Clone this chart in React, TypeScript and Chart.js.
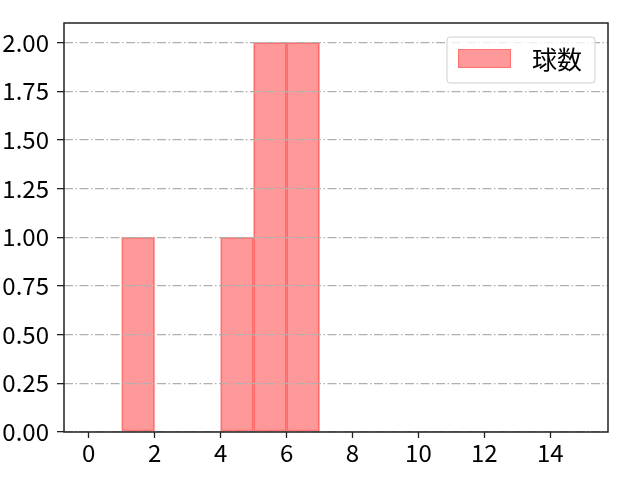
import React, { useEffect, useRef } from "react";
import { Chart, registerables } from "chart.js";

Chart.register(...registerables);

const binEdges = [0, 1, 2, 3, 4, 5, 6, 7, 8, 9, 10, 11, 12, 13, 14, 15];
const counts = [0, 1, 0, 0, 1, 2, 2, 0, 0, 0, 0, 0, 0, 0, 0];
const xTicks = [0, 2, 4, 6, 8, 10, 12, 14];
const yTicks = [0, 0.25, 0.5, 0.75, 1.0, 1.25, 1.5, 1.75, 2.0];
const seriesLabel = "球数";

const FONT = "'Noto Sans CJK JP', 'Noto Sans', sans-serif";

export default function App() {
  const ref = useRef<HTMLCanvasElement | null>(null);

  useEffect(() => {
    if (!ref.current) return;
    const data = counts.map((c, i) => ({ x: (binEdges[i] + binEdges[i + 1]) / 2, y: c }));

    const framePlugin = {
      id: "frame",
      afterDraw(chart: any) {
        const { ctx, chartArea: a } = chart;
        ctx.save();
        ctx.strokeStyle = "#222";
        ctx.lineWidth = 1.5;
        ctx.strokeRect(a.left, a.top, a.right - a.left, a.bottom - a.top);
        // legend
        const lx = 447, ly = 37, lw = 148, lh = 46;
        ctx.fillStyle = "rgba(255,255,255,0.8)";
        ctx.strokeStyle = "#d0d0d0";
        ctx.lineWidth = 1;
        ctx.beginPath();
        const r = 3;
        ctx.moveTo(lx + r, ly);
        ctx.lineTo(lx + lw - r, ly);
        ctx.quadraticCurveTo(lx + lw, ly, lx + lw, ly + r);
        ctx.lineTo(lx + lw, ly + lh - r);
        ctx.quadraticCurveTo(lx + lw, ly + lh, lx + lw - r, ly + lh);
        ctx.lineTo(lx + r, ly + lh);
        ctx.quadraticCurveTo(lx, ly + lh, lx, ly + lh - r);
        ctx.lineTo(lx, ly + r);
        ctx.quadraticCurveTo(lx, ly, lx + r, ly);
        ctx.closePath();
        ctx.fill();
        ctx.stroke();
        ctx.fillStyle = "rgba(255,0,0,0.4)";
        ctx.fillRect(458, 49, 53, 19);
        ctx.strokeStyle = "rgba(255,0,0,0.25)";
        ctx.strokeRect(458.5, 49.5, 52, 18);
        ctx.fillStyle = "#000";
        ctx.font = `25px ${FONT}`;
        ctx.textBaseline = "middle";
        ctx.textAlign = "left";
        ctx.fillText(seriesLabel, 532, 59);
        ctx.restore();
      },
    };

    const chart = new Chart(ref.current, {
      type: "bar",
      data: {
        datasets: [
          {
            label: seriesLabel,
            data,
            backgroundColor: "rgba(255,0,0,0.4)",
            borderColor: "rgba(255,0,0,0.33)",
            borderWidth: (ctx: any) => (ctx.raw && ctx.raw.y > 0 ? 1 : 0),
            borderSkipped: false,
            inflateAmount: 0.5,
            barPercentage: 1,
            categoryPercentage: 1,
          } as any,
        ],
      },
      options: {
        animation: false,
        responsive: false,
        layout: { padding: { top: 23, right: 32, left: 0, bottom: 0 } },
        plugins: { legend: { display: false }, tooltip: { enabled: false } },
        scales: {
          x: {
            type: "linear",
            min: -0.75,
            max: 15.75,
            offset: false,
            afterBuildTicks: (s: any) => {
              s.ticks = xTicks.map((v) => ({ value: v }));
            },
            afterFit: (s: any) => {
              s.height = 48;
            },
            border: { display: false },
            grid: {
              offset: false,
              drawOnChartArea: false,
              drawTicks: true,
              tickLength: 6,
              tickColor: "#222",
              tickWidth: 1.3,
            },
            ticks: {
              color: "#000",
              font: { family: FONT, size: 24 },
              padding: 0,
              maxRotation: 0,
              callback: (v: any) => String(v),
            },
          },
          y: {
            type: "linear",
            min: 0,
            max: 2.1,
            afterBuildTicks: (s: any) => {
              s.ticks = yTicks.map((v) => ({ value: v }));
            },
            afterFit: (s: any) => {
              s.width = 64;
            },
            border: { display: false, dash: [9, 2.5, 1.5, 2.5] },
            grid: {
              z: 1,
              color: "#b0b0b0",
              lineWidth: 1.3,
              drawTicks: true,
              tickLength: 7,
              tickColor: "#222",
              tickWidth: 1.3,
              tickBorderDash: [],
            },
            ticks: {
              color: "#000",
              font: { family: FONT, size: 24 },
              padding: 8,
              callback: (v: any) => Number(v).toFixed(2),
            },
          },
        },
      },
      plugins: [framePlugin],
    } as any);
    return () => chart.destroy();
  }, []);

  return (
    <div style={{ position: "fixed", left: 0, top: 0, width: 640, height: 480, background: "#fff" }}>
      <canvas ref={ref} width={640} height={480} />
    </div>
  );
}
